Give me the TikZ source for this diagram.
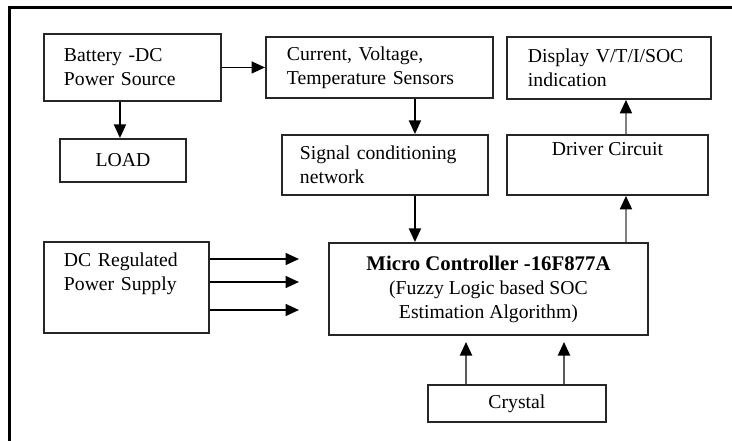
\documentclass[tikz,border=0pt]{standalone}
\usepackage{fontspec}
\setmainfont{Liberation Serif}
\usetikzlibrary{arrows.meta,calc}
\tikzset{
  box/.style={draw=black!85, line width=1.9pt, inner sep=0pt, anchor=north west,
    font=\fontsize{19.7}{24}\selectfont},
  lbox/.style={box, align=left},
  cbox/.style={box, align=center},
  arr/.style={line width=1.6pt, draw=black, -{Triangle[length=13.5pt,width=12pt]}},
  garr/.style={line width=2pt, draw=#1, -{Triangle[length=13.5pt,width=12pt,color=black]}},
  frame/.style={line width=3pt, draw=black}
}
\begin{document}
\begin{tikzpicture}[x=1pt,y=-1pt]
\useasboundingbox (0,0) rectangle (732,441);
\coordinate (fr1) at (9,441);
\coordinate (fr2) at (9,8);
\coordinate (fr3) at (732,8);
\draw[frame] (fr1) -- (fr2) -- (fr3);

\node[lbox, minimum width=177, minimum height=67, inner xsep=20pt, text width=137pt] (bat) at (43,33) {Battery -DC\\Power Source};
\node[lbox, minimum width=227, minimum height=61, inner xsep=21pt, text width=185pt] (sens) at (265,36) {Current, Voltage,\\Temperature Sensors};
\node[lbox, minimum width=204, minimum height=62, inner xsep=21pt, text width=162pt] (disp) at (506,36) {Display V/T/I/SOC\\indication};
\node[cbox, minimum width=126, minimum height=43] (load) at (59,138) {LOAD};
\node[lbox, minimum width=206, minimum height=60, inner xsep=18pt, text width=170pt] (sig) at (281,134) {Signal conditioning\\network};
\node[cbox, minimum width=201, minimum height=60] (drv) at (506,134) {Driver Circuit\\\strut};
\node[lbox, minimum width=165, minimum height=91, inner xsep=20pt, text width=125pt] (dc) at (43,241) {DC Regulated\\Power Supply\\\strut};
\node[cbox, minimum width=319, minimum height=92] (mc) at (328,242) {{\fontsize{20.8}{24}\selectfont\textbf{Micro Controller -16F877A}}\\(Fuzzy Logic based SOC\\Estimation Algorithm)};
\node[cbox, minimum width=178, minimum height=37] (crys) at (427,384) {Crystal};

% free ends
\coordinate (dcin1) at (299,259);
\coordinate (dcin2) at (299,282);
\coordinate (dcin3) at (299,310);
\coordinate (xt1) at (466,342);
\coordinate (xt2) at (564,342);

\draw[arr] (bat) -- (sens);
\draw[arr] ([xshift=-3pt]load.north |- bat.south) -- ([xshift=-3pt]load.north);
\draw[arr] ([xshift=30pt]sig.north |- sens.south) -- ([xshift=30pt]sig.north);
\draw[arr] ([xshift=30pt]sig.south) -- ([xshift=30pt]sig.south |- mc.north);
\draw[garr=black!50] ([xshift=18.5pt]drv.south |- mc.north) -- ([xshift=18.5pt]drv.south);
\draw[garr=black!50] ([xshift=18.5pt]drv.north) -- ([xshift=18.5pt]drv.north |- disp.south);
\draw[arr] (dcin1 -| dc.east) -- (dcin1);
\draw[arr] (dcin2 -| dc.east) -- (dcin2);
\draw[arr] (dcin3 -| dc.east) -- (dcin3);
\draw[garr=black!65] (xt1 |- crys.north) -- (xt1);
\draw[garr=black!65] (xt2 |- crys.north) -- (xt2);
\end{tikzpicture}
\end{document}
